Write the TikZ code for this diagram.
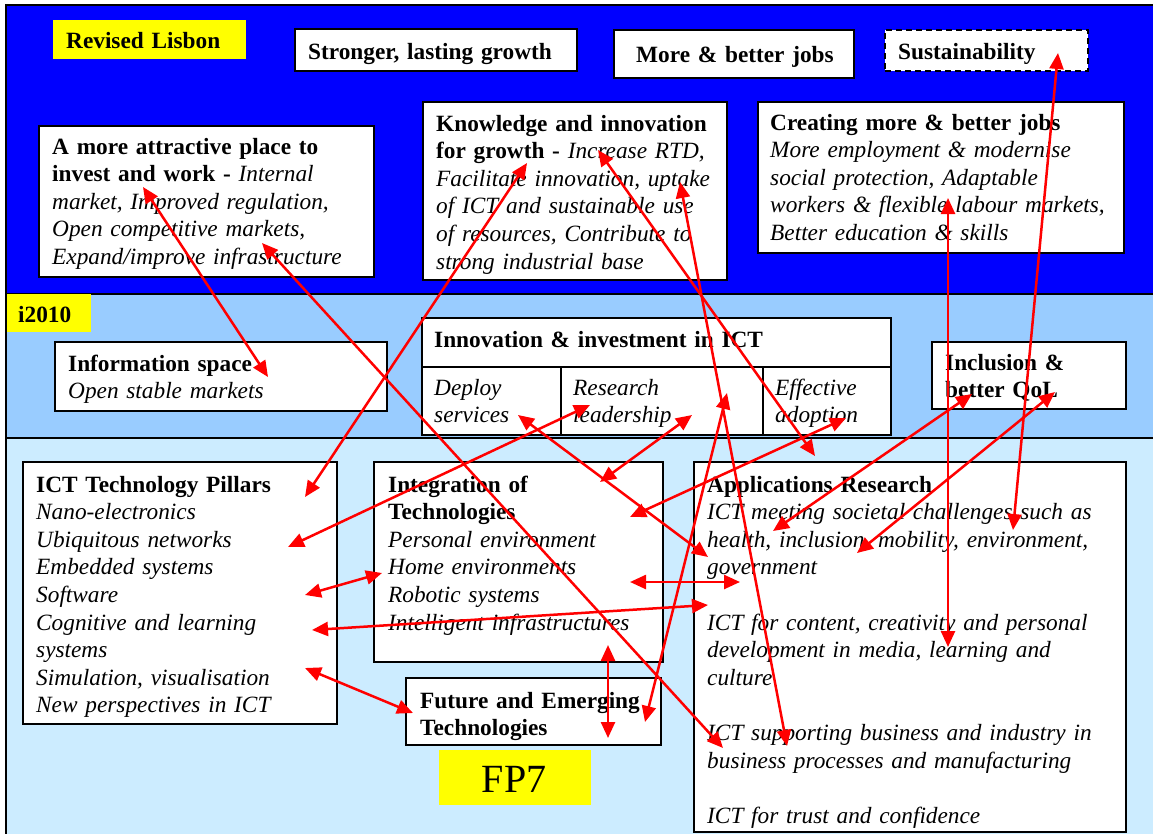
\documentclass[tikz,border=0pt]{standalone}
\usepackage{fontspec}
\setmainfont{Liberation Serif}
\usetikzlibrary{arrows.meta}
\definecolor{topband}{HTML}{0000FF}
\definecolor{midband}{HTML}{99CCFF}
\definecolor{lowband}{HTML}{CCECFF}
\definecolor{hlyellow}{HTML}{FFFF00}
\definecolor{arrowred}{HTML}{FF0000}
\begin{document}
\begin{tikzpicture}[x=1pt,y=-1pt,
  every node/.style={font=\fontsize{23.3}{27.6}\selectfont},
  frame/.style={draw=black, line width=1.5pt, fill=white, anchor=north west, inner sep=0pt, outer sep=0pt},
  tagbox/.style={fill=hlyellow, anchor=north west, inner sep=0pt, outer sep=0pt},
  txt/.style={anchor=base west, align=left, text width=440pt, inner sep=0pt},
  link/.style={draw=arrowred, line width=2.5pt, {Triangle[length=16pt,width=14pt]}-{Triangle[length=16pt,width=14pt]}}
]
\useasboundingbox (0,0) rectangle (1153,833);
\clip (0,0) rectangle (1153,833);
\fill[white] (0,0) rectangle (1153,833);
% bands
\path[fill=topband, draw=black, line width=2pt] (6,5) rectangle (1160,294);
\path[fill=midband, draw=black, line width=2pt] (6,294) rectangle (1160,438);
\path[fill=lowband, draw=black, line width=2pt] (6,438) rectangle (1160,845);

% top band
\node[tagbox, minimum width=193pt, minimum height=39pt] (lisbon) at (53,20) {};
\node[txt] (lisbon-t) at (66,48) {\textbf{Revised Lisbon}};
\node[frame, minimum width=282pt, minimum height=42pt] (strong) at (295,29) {};
\node[txt] (strong-t) at (308,59) {\textbf{Stronger, lasting growth}};
\node[frame, minimum width=240pt, minimum height=48pt] (jobs) at (614,30) {};
\node[txt] (jobs-t) at (636,62) {\textbf{More \& better jobs}};
\node[frame, dash pattern=on 6pt off 4pt, line width=2pt, minimum width=203pt, minimum height=41pt] (sust) at (885,30) {};
\node[txt] (sust-t) at (898,59) {\textbf{Sustainability}};

\node[frame, minimum width=335pt, minimum height=151pt] (attr) at (39,126) {};
\node[txt] (attr-t) at (52,154) {\textbf{A more attractive place to}\\\textbf{invest and work -} \textit{Internal}\\\textit{market, Improved regulation,}\\\textit{Open competitive markets,}\\\textit{Expand/improve infrastructure}};
\node[frame, minimum width=304pt, minimum height=178pt] (know) at (423,102) {};
\node[txt] (know-t) at (436,131) {\textbf{Knowledge and innovation}\\\textbf{for growth -} \textit{Increase RTD,}\\\textit{Facilitate innovation, uptake}\\\textit{of ICT and sustainable use}\\\textit{of resources, Contribute to}\\\textit{strong industrial base}};
\node[frame, minimum width=366pt, minimum height=151pt] (create) at (758,102) {};
\node[txt] (create-t) at (770,130) {\textbf{Creating more \& better jobs}\\\textit{More employment \& modernise}\\\textit{social protection, Adaptable}\\\textit{workers \& flexible labour markets,}\\\textit{Better education \& skills}};

% middle band
\node[tagbox, minimum width=84pt, minimum height=38pt] (i2010) at (7,294) {};
\node[txt] (i2010-t) at (18,322) {\textbf{i2010}};
\node[frame, minimum width=332pt, minimum height=69pt] (info) at (55,342) {};
\node[txt] (info-t) at (68,371) {\textbf{Information space}\\\textit{Open stable markets}};
\node[frame, minimum width=469pt, minimum height=49pt] (innov) at (422,318) {};
\node[txt] (innov-t) at (434,347) {\textbf{Innovation \& investment in ICT}};
\node[frame, minimum width=139pt, minimum height=68pt] (deploy) at (422,367) {};
\node[txt] (deploy-t) at (434,395) {\textit{Deploy}\\\textit{services}};
\node[frame, minimum width=202pt, minimum height=68pt] (research) at (561,367) {};
\node[txt] (research-t) at (573,395) {\textit{Research}\\\textit{leadership}};
\node[frame, minimum width=128pt, minimum height=68pt] (effect) at (763,367) {};
\node[txt] (effect-t) at (775,395) {\textit{Effective}\\\textit{adoption}};
\node[frame, minimum width=194pt, minimum height=67pt] (incl) at (932,342) {};
\node[txt] (incl-t) at (945,370) {\textbf{Inclusion \&}\\\textbf{better QoL}};

% lower band
\node[frame, minimum width=314pt, minimum height=262pt] (pillars) at (23,462) {};
\node[txt] (pillars-t) at (36,492) {\textbf{ICT Technology Pillars}\\\textit{Nano-electronics}\\\textit{Ubiquitous networks}\\\textit{Embedded systems}\\\textit{Software}\\\textit{Cognitive and learning}\\\textit{systems}\\\textit{Simulation, visualisation}\\\textit{New perspectives in ICT}};
\node[frame, minimum width=289pt, minimum height=200pt] (integ) at (374,462) {};
\node[txt] (integ-t) at (388,492) {\textbf{Integration of}\\\textbf{Technologies}\\\textit{Personal environment}\\\textit{Home environments}\\\textit{Robotic systems}\\\textit{Intelligent infrastructures}};
\node[frame, minimum width=255pt, minimum height=67pt] (future) at (406,678) {};
\node[txt] (future-t) at (420,708) {\textbf{Future and Emerging}\\\textbf{Technologies}};
\node[tagbox, minimum width=152pt, minimum height=55pt] (fp7) at (439,750) {};
\node[anchor=base, inner sep=0pt, font=\fontsize{40}{48}\selectfont] (fp7-t) at (514,792) {FP7};
\node[frame, minimum width=432pt, minimum height=370pt] (apps) at (694,462) {};
\node[txt] (apps-t) at (707,492) {\textbf{Applications Research}\\\textit{ICT meeting societal challenges such as}\\\textit{health, inclusion, mobility, environment,}\\\textit{government}\\[27.6pt]\textit{ICT for content, creativity and personal}\\\textit{development in media, learning and}\\\textit{culture}\\[27.6pt]\textit{ICT supporting business and industry in}\\\textit{business processes and manufacturing}\\[27.6pt]\textit{ICT for trust and confidence}};

% connector end points
\coordinate (a1) at (143,187);  \coordinate (a2) at (268,377);
\coordinate (b1) at (262,243);  \coordinate (b2) at (723,748);
\coordinate (c1) at (527,163);  \coordinate (c2) at (305,497);
\coordinate (d1) at (598,150);  \coordinate (d2) at (815,456);
\coordinate (e1) at (680,182);  \coordinate (e2) at (787,746);
\coordinate (f1) at (948,198);  \coordinate (f2) at (948,647);
\coordinate (g1) at (1058,53);  \coordinate (g2) at (1013,530);
\coordinate (h1) at (518,415);  \coordinate (h2) at (708,557);
\coordinate (i1) at (590,405);  \coordinate (i2) at (288,547);
\coordinate (j1) at (692,415);  \coordinate (j2) at (600,482);
\coordinate (k1) at (727,393);  \coordinate (k2) at (645,722);
\coordinate (l1) at (846,418);  \coordinate (l2) at (630,517);
\coordinate (m1) at (972,394);  \coordinate (m2) at (773,531);
\coordinate (n1) at (1055,392); \coordinate (n2) at (857,553);
\coordinate (o1) at (305,595);  \coordinate (o2) at (382,573);
\coordinate (p1) at (312,630);  \coordinate (p2) at (708,605);
\coordinate (q1) at (305,668);  \coordinate (q2) at (413,713);
\coordinate (r1) at (630,582);  \coordinate (r2) at (740,582);
\coordinate (s1) at (608,645);  \coordinate (s2) at (608,738);

\foreach \u in {a,b,c,d,e,f,g,h,i,j,k,l,m,n,o,p,q,r,s}
  \draw[link] (\u1) -- (\u2);
\end{tikzpicture}
\end{document}
